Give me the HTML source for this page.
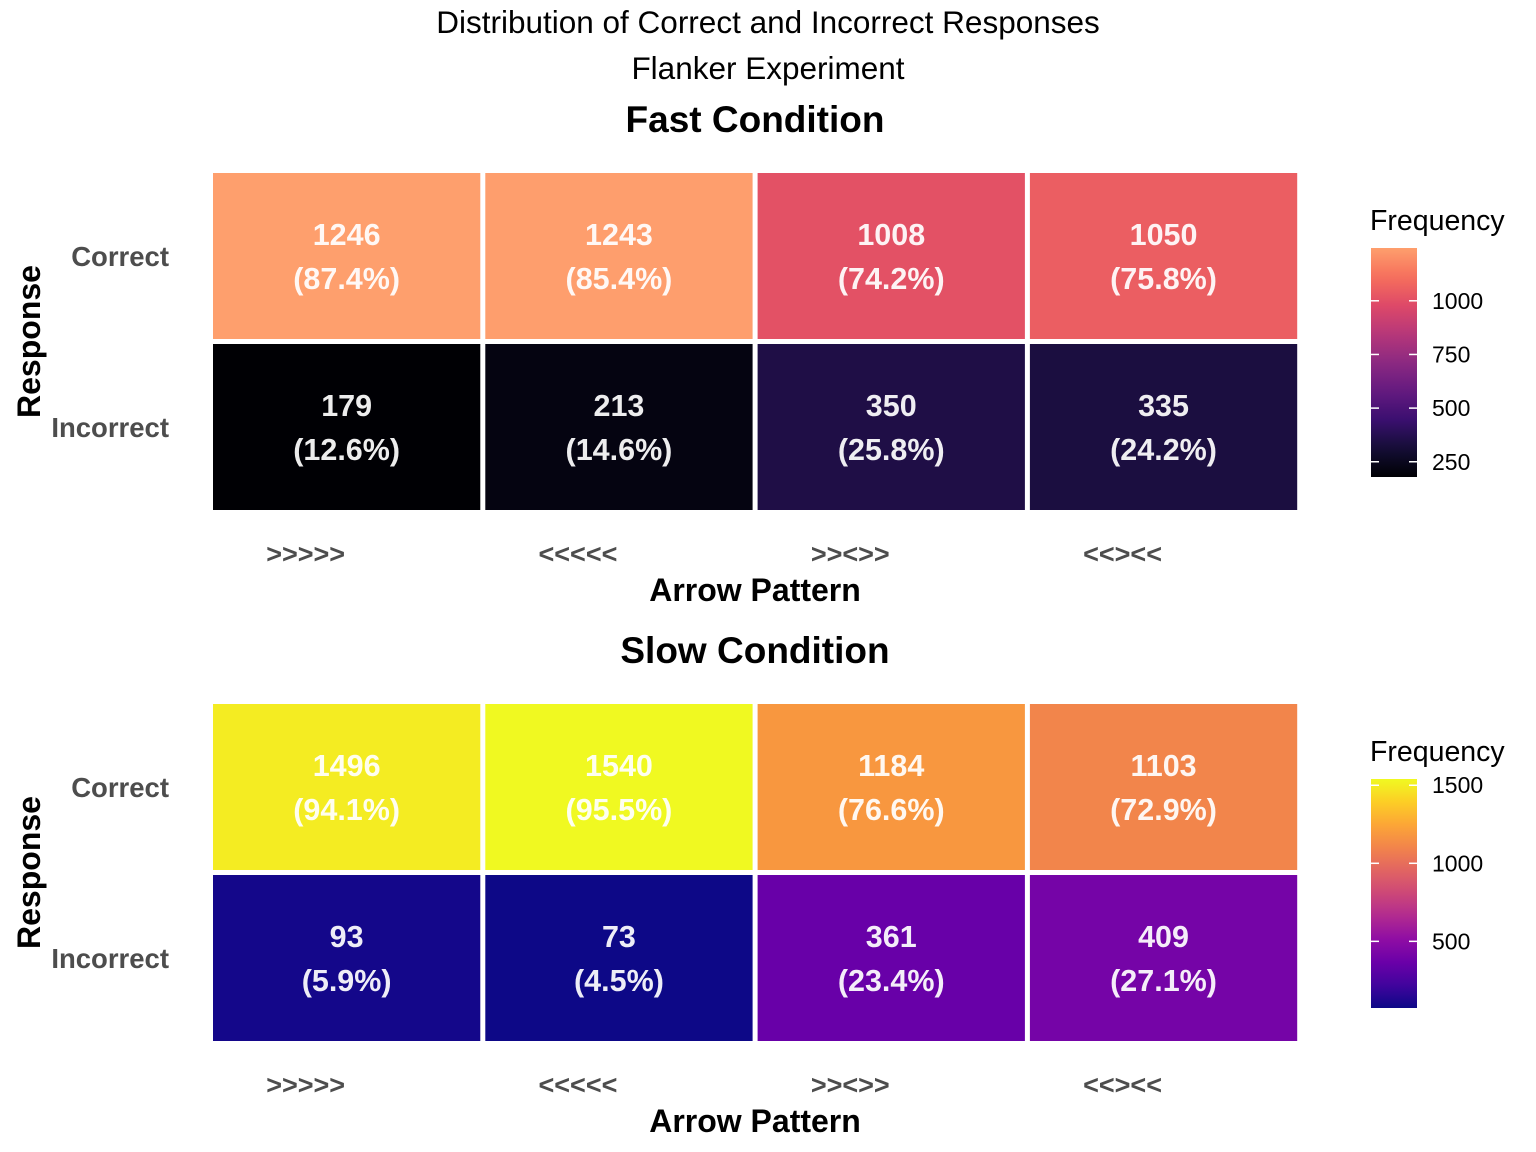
<!DOCTYPE html>
<html><head><meta charset="utf-8"><style>
html,body{margin:0;padding:0;background:#fff;}
svg{display:block;font-family:"Liberation Sans",Arial,sans-serif;}
</style></head><body>
<svg id="chart" width="1536" height="1152" viewBox="0 0 1536 1152">
<text x="768" y="33" text-anchor="middle" font-size="31.5" fill="#000">Distribution of Correct and Incorrect Responses</text>
<text x="768" y="79" text-anchor="middle" font-size="31.5" fill="#000">Flanker Experiment</text>
<defs>
<linearGradient id="gFast" x1="0" y1="1" x2="0" y2="0"></linearGradient>
<linearGradient id="gSlow" x1="0" y1="1" x2="0" y2="0"></linearGradient>
</defs>
<g id="panels"></g>
</svg>
<script>
const patterns = [">>>>>", "<<<<<", ">><>>", "<<><<"];
const responses = ["Correct", "Incorrect"];
const fastCorrect = [1246, 1243, 1008, 1050];
const fastIncorrect = [179, 213, 350, 335];
const fastCorrectPct = ["87.4%", "85.4%", "74.2%", "75.8%"];
const fastIncorrectPct = ["12.6%", "14.6%", "25.8%", "24.2%"];
const slowCorrect = [1496, 1540, 1184, 1103];
const slowIncorrect = [93, 73, 361, 409];
const slowCorrectPct = ["94.1%", "95.5%", "76.6%", "72.9%"];
const slowIncorrectPct = ["5.9%", "4.5%", "23.4%", "27.1%"];
const fastTicks = [250, 500, 750, 1000];
const slowTicks = [500, 1000, 1500];

const magma = ["#000004","#140e36","#3b0f70","#641a80","#8c2981","#b73779","#de4968","#f7705c","#fe9f6d","#fecf92","#fcfdbf"];
const plasma = ["#0d0887","#41049d","#6a00a8","#8f0da4","#b12a90","#cc4778","#e16462","#f2844b","#fca636","#fcce25","#f0f921"];
function hex(c){return [1,3,5].map(i=>parseInt(c.substr(i,2),16));}
function pal(stops,t){t=Math.max(0,Math.min(1,t));const p=t*(stops.length-1);const i=Math.min(Math.floor(p),stops.length-2);const f=p-i;const a=hex(stops[i]),b=hex(stops[i+1]);return "rgb("+a.map((v,k)=>Math.round(v+(b[k]-v)*f)).join(",")+")";}
const NS="http://www.w3.org/2000/svg";
const root=document.getElementById("panels");
function mk(tag,attrs,parent,text){const e=document.createElementNS(NS,tag);for(const k in attrs)e.setAttribute(k,attrs[k]);if(text!==undefined)e.textContent=text;(parent||root).appendChild(e);return e;}

function panel(cfg){
  const g=mk("g",{});
  
  
  const x0=213,y0=cfg.top;
  const cw=272.3, rh=171, h=337;
  const all=cfg.correct.concat(cfg.incorrect);
  const vmin=Math.min(...all), vmax=Math.max(...all);
  const col=v=>pal(cfg.stops,(v-vmin)/(vmax-vmin)*cfg.end);
  const xScale=i=>x0+i*cw, yScale=r=>y0+r*rh;
  const t=mk("text",{x:755,y:y0-41,"text-anchor":"middle","font-size":37,"font-weight":"bold",fill:"#000"},g,cfg.title);
  
  
  [cfg.correct,cfg.incorrect].forEach((vals,r)=>{
    const pcts=r===0?cfg.correctPct:cfg.incorrectPct;
    vals.forEach((v,i)=>{
      const rc=mk("rect",{x:xScale(i),y:yScale(r),width:cw-5,height:rh-5,fill:col(v)},g);
      
      
      const cx=xScale(i)+(cw-5)/2, cy=yScale(r)+(rh-5)/2;
      const l1=mk("text",{x:cx,y:cy-11,"text-anchor":"middle","font-size":30.5,"font-weight":"bold",fill:"#fff","fill-opacity":0.93},g,String(v));
      
      
      const l2=mk("text",{x:cx,y:cy+33,"text-anchor":"middle","font-size":30.5,"font-weight":"bold",fill:"#fff","fill-opacity":0.93},g,"("+pcts[i]+")");
      
      
    });
    const yl=mk("text",{x:169,y:yScale(r)+(rh-5)/2+10,"text-anchor":"end","font-size":27.5,"font-weight":"bold",fill:"#4d4d4d"},g,responses[r]);
    
    
  });
  patterns.forEach((p,i)=>{
    const xl=mk("text",{x:xScale(i)+(cw-5)/2-41,y:y0+h+53,"text-anchor":"middle","font-size":27,"font-weight":"bold",fill:"#4d4d4d"},g,p);
    
    
  });
  const xt=mk("text",{x:755,y:y0+h+91,"text-anchor":"middle","font-size":32,"font-weight":"bold",fill:"#000"},g,"Arrow Pattern");
  
  
  const yt=mk("text",{x:0,y:0,"text-anchor":"middle","font-size":32,"font-weight":"bold",fill:"#000",transform:"translate(40,"+(y0+h/2)+") rotate(-90)"},g,"Response");
  
  
  const lg=mk("g",{},g);
  
  
  const lt=mk("text",{x:1370,y:y0+57,"font-size":28.5,fill:"#000"},lg,"Frequency");
  
  
  const grad=document.getElementById(cfg.grad);
  for(let k=0;k<=20;k++){mk("stop",{offset:(k/20),"stop-color":pal(cfg.stops,k/20*cfg.end)},grad);}
  const by0=y0+75, by1=y0+304;
  const bar=mk("rect",{x:1371,y:by0,width:46,height:by1-by0,fill:"url(#"+cfg.grad+")"},lg);
  
  
  const ly=v=>by1-(v-vmin)/(vmax-vmin)*(by1-by0);
  cfg.ticks.forEach(v=>{
    const y=ly(v);
    mk("line",{x1:1371,x2:1379,y1:y,y2:y,stroke:"#fff","stroke-width":1.5},lg);
    mk("line",{x1:1409,x2:1417,y1:y,y2:y,stroke:"#fff","stroke-width":1.5},lg);
    const tl=mk("text",{x:1432,y:y+8,"font-size":23,fill:"#000"},lg,String(v));
    
    
  });
}
panel({name:"fast-condition-panel",title:"Fast Condition",top:173,correct:fastCorrect,incorrect:fastIncorrect,correctPct:fastCorrectPct,incorrectPct:fastIncorrectPct,stops:magma,end:0.8,ticks:fastTicks,grad:"gFast"});
panel({name:"slow-condition-panel",title:"Slow Condition",top:704,correct:slowCorrect,incorrect:slowIncorrect,correctPct:slowCorrectPct,incorrectPct:slowIncorrectPct,stops:plasma,end:1.0,ticks:slowTicks,grad:"gSlow"});
</script>
</body></html>
